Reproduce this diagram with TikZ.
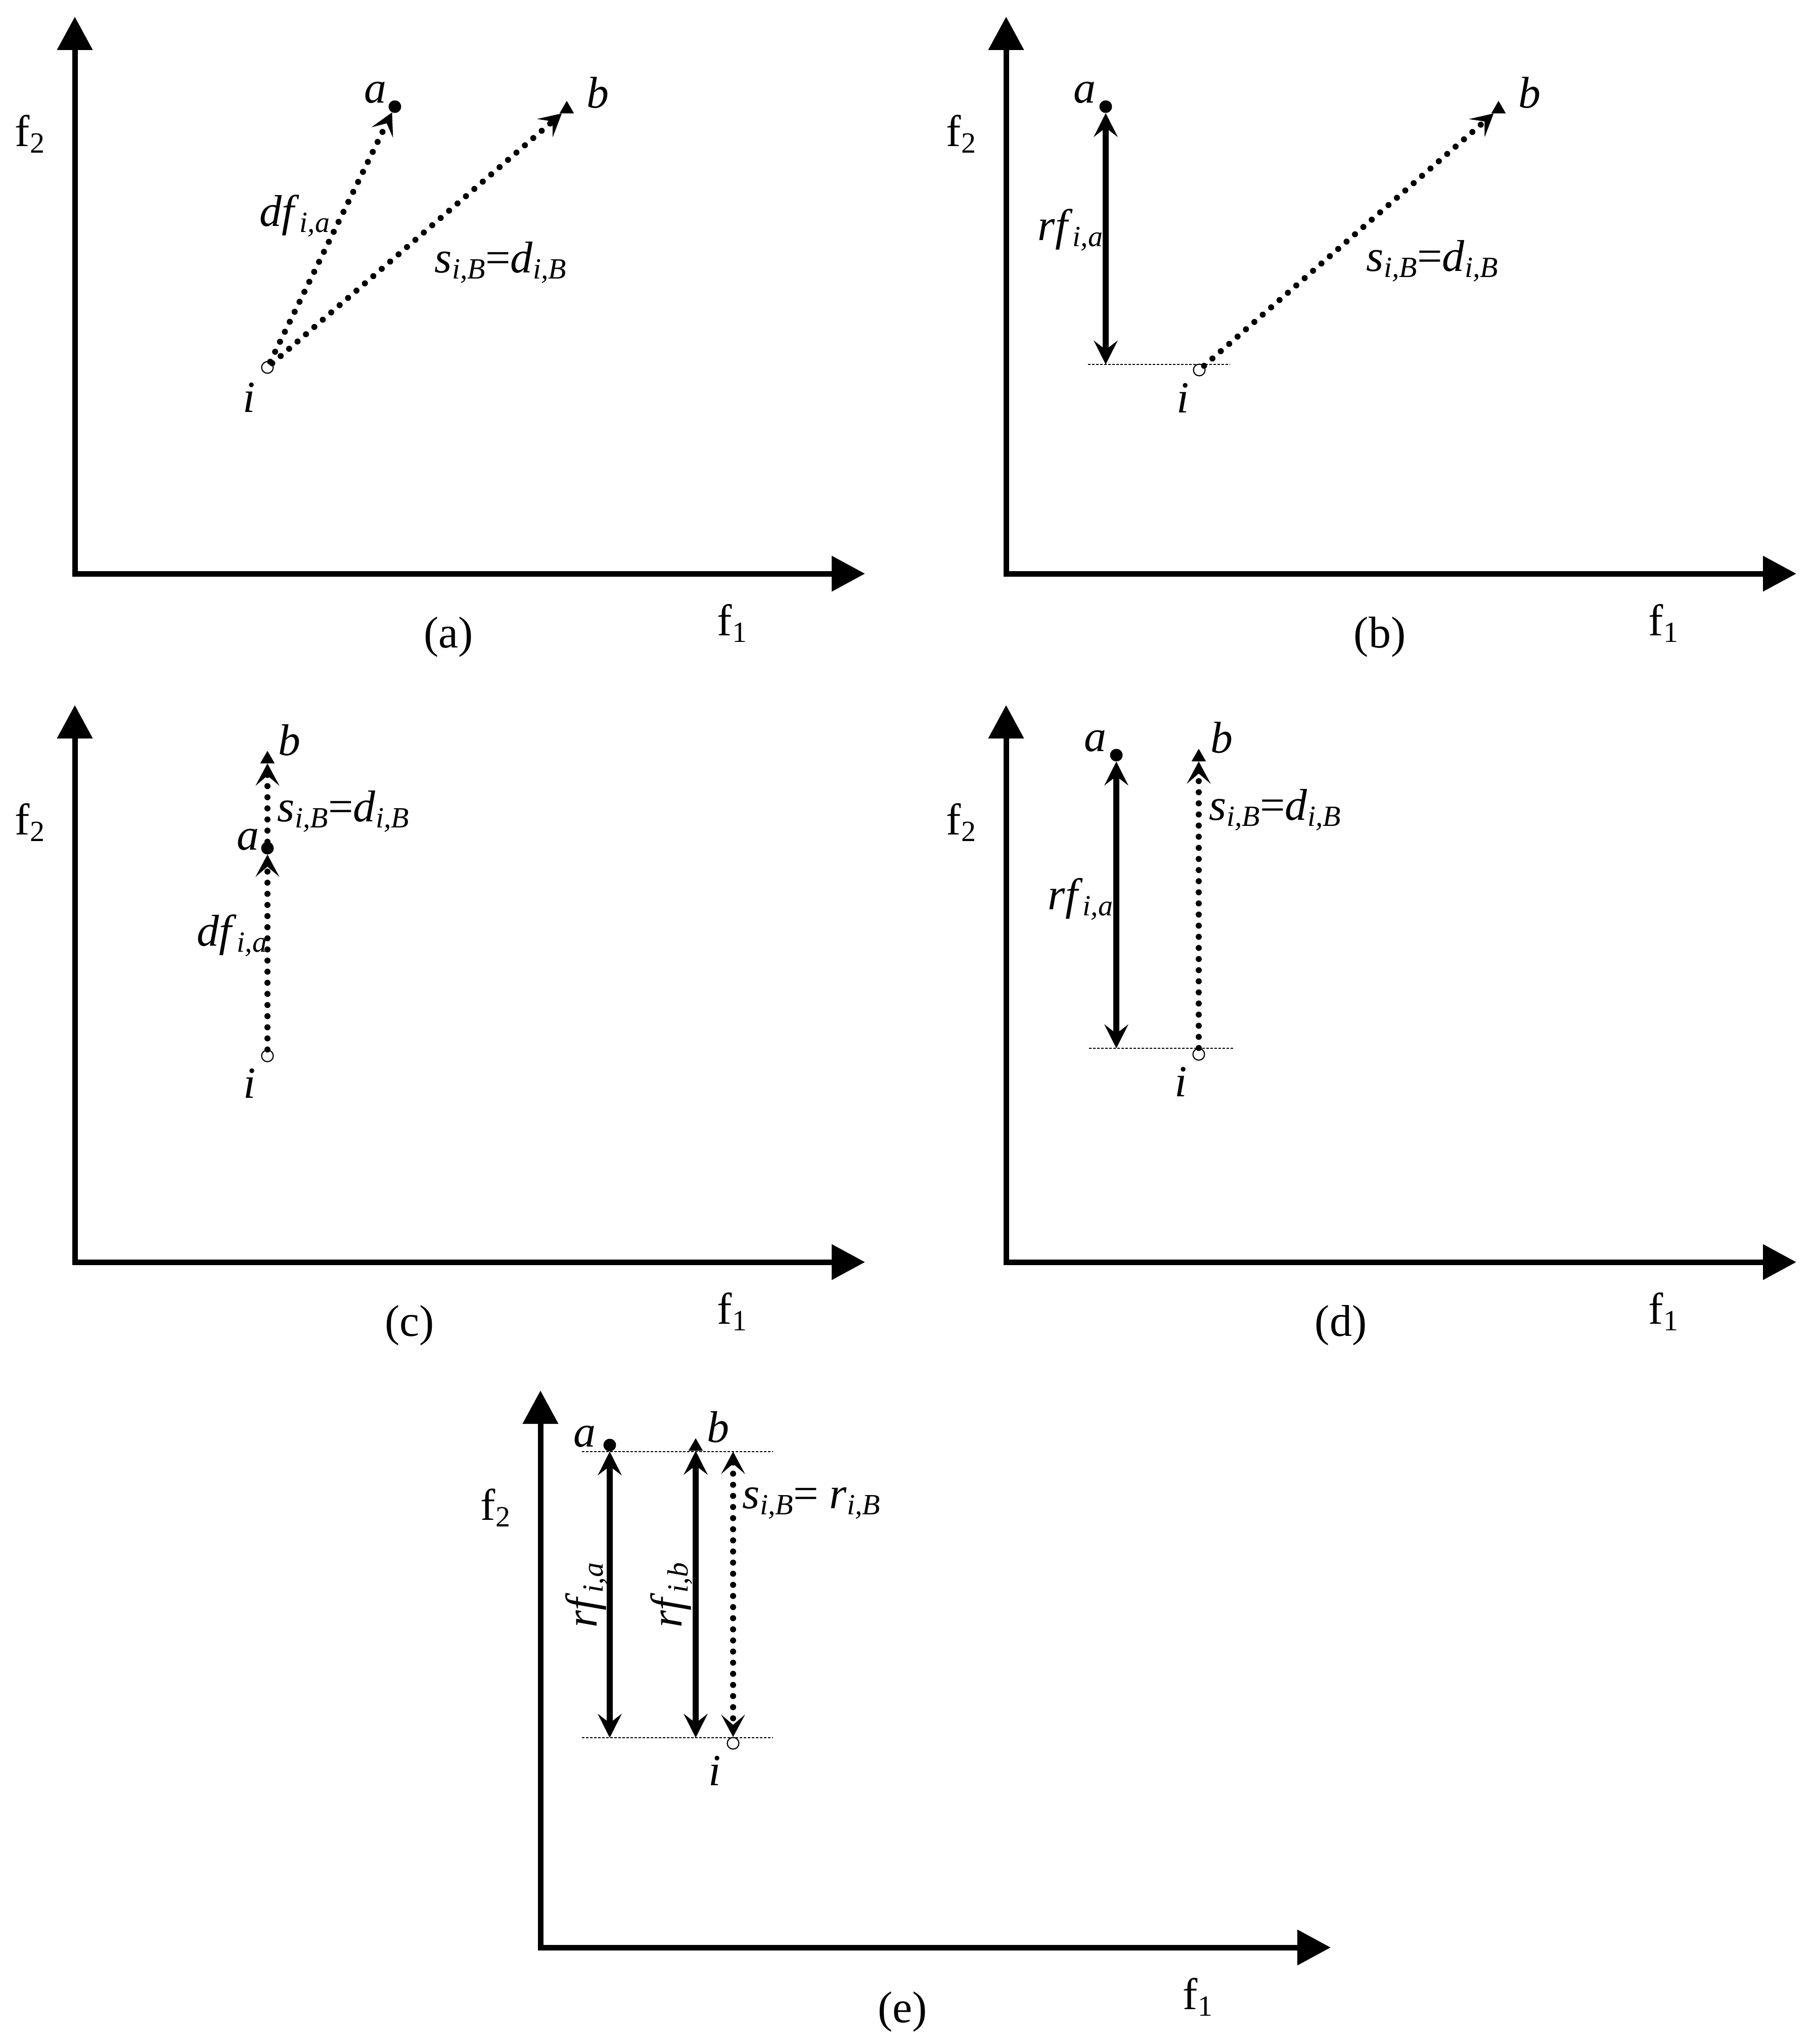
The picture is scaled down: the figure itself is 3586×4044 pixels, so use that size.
\documentclass[tikz,border=0pt]{standalone}
\usepackage{fontspec}
\setmainfont{Liberation Serif}
\usetikzlibrary{arrows.meta,shapes.geometric}
\newcommand\lsub[1]{\raisebox{-12pt}{\fontsize{58}{60}\selectfont\itshape #1}}
\newcommand\usub[1]{\raisebox{-13pt}{\fontsize{58}{60}\selectfont #1}}
\tikzset{
  axis/.style={line width=11pt, line join=miter, {Triangle[length=66pt,width=68pt]}-{Triangle[length=66pt,width=68pt]}},
  rfarr/.style={line width=12pt, {Stealth[length=47pt,width=47pt,inset=18pt]}-{Stealth[length=47pt,width=47pt,inset=18pt]}},
  dotarr/.style={line width=12pt, line cap=round, dash pattern=on 0pt off 22pt, -{Stealth[length=44pt,width=47pt,inset=20pt]}},
  dotdbl/.style={line width=12pt, line cap=round, dash pattern=on 0pt off 22pt, {Stealth[length=44pt,width=47pt,inset=20pt]}-{Stealth[length=44pt,width=47pt,inset=20pt]}},
  guide/.style={line width=2pt, dash pattern=on 5pt off 3pt},
  ptA/.style={circle, fill=black, inner sep=0pt, minimum size=25pt},
  ptB/.style={regular polygon, regular polygon sides=3, fill=black, inner sep=0pt, minimum size=33pt},
  ptI/.style={circle, draw=black, line width=2.2pt, fill=white, inner sep=0pt, minimum size=23pt},
  lab/.style={inner sep=0pt, font=\fontsize{88}{96}\selectfont},
}
\begin{document}
\begin{tikzpicture}[x=1pt,y=-1pt]
\useasboundingbox[fill=white] (0,0) rectangle (3586,4044);

% ---------- axes of the five panels ----------
\begin{scope}
  \coordinate (aO) at (148,1135); \coordinate (aY) at (148,33); \coordinate (aX) at (1711,1135);
  \draw[axis] (aY) -- (aO) -- (aX);
  \node[lab] (af2) at (59,265) {f\usub{2}};
  \node[lab] (af1) at (1448,1233) {f\usub{1}};
  \node[lab] (acap) at (887,1260) {(a)};
\end{scope}
\begin{scope}[shift={(1842,0)}]
  \coordinate (bO) at (148,1135); \coordinate (bY) at (148,33); \coordinate (bX) at (1711,1135);
  \draw[axis] (bY) -- (bO) -- (bX);
  \node[lab] (bf2) at (59,265) {f\usub{2}};
  \node[lab] (bf1) at (1448,1233) {f\usub{1}};
  \node[lab] (bcap) at (887,1260) {(b)};
\end{scope}
\begin{scope}[shift={(0,1362)}]
  \coordinate (cO) at (148,1135); \coordinate (cY) at (148,33); \coordinate (cX) at (1711,1135);
  \draw[axis] (cY) -- (cO) -- (cX);
  \node[lab] (cf2) at (59,265) {f\usub{2}};
  \node[lab] (cf1) at (1448,1233) {f\usub{1}};
  \node[lab] (ccap) at (810,1260) {(c)};
\end{scope}
\begin{scope}[shift={(1842,1362)}]
  \coordinate (dO) at (148,1135); \coordinate (dY) at (148,33); \coordinate (dX) at (1711,1135);
  \draw[axis] (dY) -- (dO) -- (dX);
  \node[lab] (df2) at (59,265) {f\usub{2}};
  \node[lab] (df1) at (1448,1233) {f\usub{1}};
  \node[lab] (dcap) at (810,1260) {(d)};
\end{scope}
\begin{scope}[shift={(921,2718)}]
  \coordinate (eO) at (148,1135); \coordinate (eY) at (148,33); \coordinate (eX) at (1711,1135);
  \draw[axis] (eY) -- (eO) -- (eX);
  \node[lab] (ef2) at (59,265) {f\usub{2}};
  \node[lab] (ef1) at (1448,1233) {f\usub{1}};
  \node[lab] (ecap) at (864,1262) {(e)};
\end{scope}

% ---------- panel (a) ----------
\node[ptI] (ai) at (529,727) {};
\node[ptA] (aa) at (781,211) {};
\node[ptB] (ab) at (1121,216) {};
\draw[dotarr] (ai) -- (aa);
\draw[dotarr] (ai) -- (ab);
\node[lab] (aal) at (742,183) {\textit{a}};
\node[lab] (abl) at (1182,183) {\textit{b}};
\node[lab] (ail) at (493,786) {\textit{i}};
\node[lab] (adf) at (583,427) {\textit{df}\lsub{i,a}};
\node[lab] (asd) at (990,519) {\textit{s}\lsub{i,B}=\textit{d}\lsub{i,B}};

% ---------- panel (b) ----------
\coordinate (bgL) at (2152,721); \coordinate (bgR) at (2433,721);
\draw[guide] (bgL) -- (bgR);
\node[ptI] (bi) at (2372,732) {};
\node[ptA] (ba) at (2187,211) {};
\node[ptB] (bb) at (2964,216) {};
\draw[rfarr] (ba) -- (ba |- bgL);
\draw[dotarr] (bi) -- (bb);
\node[lab] (bal) at (2145,183) {\textit{a}};
\node[lab] (bbl) at (3025,183) {\textit{b}};
\node[lab] (bil) at (2340,787) {\textit{i}};
\node[lab] (brf) at (2117,455) {\textit{rf}\lsub{i,a}};
\node[lab] (bsd) at (2833,516) {\textit{s}\lsub{i,B}=\textit{d}\lsub{i,B}};

% ---------- panel (c) ----------
\node[ptI] (ci) at (529,2089) {};
\node[ptA] (ca) at (529,1678) {};
\node[ptB] (cb) at (529,1502) {};
\draw[dotarr] (ci) -- (ca);
\draw[dotarr] (ca) -- (cb);
\node[lab] (cbl) at (572,1464) {\textit{b}};
\node[lab] (cal) at (490,1661) {\textit{a}};
\node[lab] (csd) at (679,1605) {\textit{s}\lsub{i,B}=\textit{d}\lsub{i,B}};
\node[lab] (cdf) at (459,1851) {\textit{df}\lsub{i,a}};
\node[lab] (cil) at (494,2143) {\textit{i}};

% ---------- panel (d) ----------
\coordinate (dgL) at (2154,2074); \coordinate (dgR) at (2439,2074);
\draw[guide] (dgL) -- (dgR);
\node[ptI] (di) at (2371,2086) {};
\node[ptA] (da) at (2208,1494) {};
\node[ptB] (db) at (2371,1498) {};
\draw[rfarr] (da) -- (da |- dgL);
\draw[dotarr] (di) -- (db);
\node[lab] (dal) at (2166,1466) {\textit{a}};
\node[lab] (dbl) at (2416,1459) {\textit{b}};
\node[lab] (dsd) at (2522,1602) {\textit{s}\lsub{i,B}=\textit{d}\lsub{i,B}};
\node[lab] (drf) at (2137,1779) {\textit{rf}\lsub{i,a}};
\node[lab] (dil) at (2336,2140) {\textit{i}};

% ---------- panel (e) ----------
\coordinate (etL) at (1151,2872); \coordinate (etR) at (1529,2872);
\coordinate (ebL) at (1151,3438); \coordinate (ebR) at (1529,3438);
\draw[guide] (etL) -- (etR);
\draw[guide] (ebL) -- (ebR);
\node[ptI] (ei) at (1450,3449) {};
\node[ptA] (ea) at (1206,2859) {};
\node[ptB] (eb) at (1376,2862) {};
\draw[rfarr] (ea) -- (ea |- ebL);
\draw[rfarr] (eb) -- (eb |- ebL);
\draw[dotdbl] (ei |- etL) -- (ei);
\node[lab] (eal) at (1156,2842) {\textit{a}};
\node[lab] (ebl) at (1420,2823) {\textit{b}};
\node[lab] (esr) at (1605,2974) {\textit{s}\lsub{i,B}= \textit{r}\lsub{i,B}};
\node[lab, rotate=90] (erfa) at (1160,3156) {\textit{rf}\lsub{i,a}};
\node[lab, rotate=90] (erfb) at (1328,3156) {\textit{rf}\lsub{i,b}};
\node[lab] (eil) at (1414,3503) {\textit{i}};
\end{tikzpicture}
\end{document}
